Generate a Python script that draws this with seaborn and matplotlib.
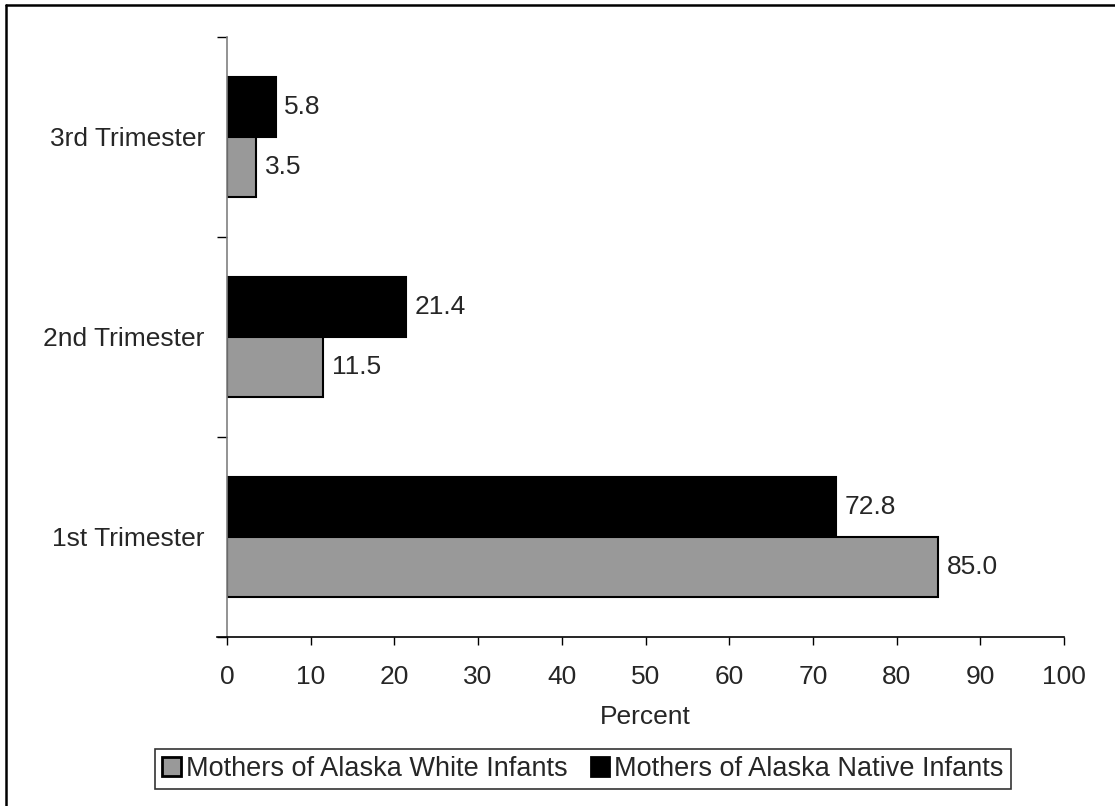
import pandas as pd
import matplotlib.pyplot as plt
import seaborn as sns
from matplotlib.patches import Patch
from matplotlib.lines import Line2D

# Data
trimesters = ['3rd Trimester', '2nd Trimester', '1st Trimester']
white_pct = [3.5, 11.5, 85.0]
native_pct = [5.8, 21.4, 72.8]
groups = ['Mothers of Alaska Native Infants', 'Mothers of Alaska White Infants']
colors = {'Mothers of Alaska Native Infants': 'black',
          'Mothers of Alaska White Infants': '#999999'}
x_ticks = list(range(0, 101, 10))

df = pd.DataFrame({
    'Trimester': trimesters * 2,
    'Group': [groups[0]] * 3 + [groups[1]] * 3,
    'Percent': native_pct + white_pct,
})

sns.set_style('white')
plt.rcParams['font.family'] = ['Liberation Sans', 'DejaVu Sans']

fig = plt.figure(figsize=(11.15, 8.06), dpi=100)
ax = fig.add_axes([227 / 1115, 1 - 637 / 806, (1064 - 227) / 1115, 600 / 806])

sns.barplot(data=df, x='Percent', y='Trimester', hue='Group', order=trimesters,
            hue_order=groups, palette=colors, orient='h', width=0.6,
            edgecolor='black', linewidth=1.5, saturation=1, ax=ax, legend=False)

for cont in ax.containers:
    ax.bar_label(cont, fmt='%.1f', padding=6, fontsize=19)

ax.set_xlim(0, 100)
ax.set_ylim(2.5, -0.5)
ax.set_xticks(x_ticks)
ax.set_yticks([0, 1, 2])
ax.set_yticks([-0.5, 0.5, 1.5, 2.5], minor=True)
ax.tick_params(axis='y', which='major', length=0, pad=16, labelsize=19)
ax.tick_params(axis='y', which='minor', length=7, width=1, color='black', left=True)
ax.tick_params(axis='x', length=6, width=1, color='black', pad=14, labelsize=19, bottom=True)
ax.set_xlabel('Percent', fontsize=19, labelpad=12)
ax.set_ylabel('')

for side in ['top', 'right']:
    ax.spines[side].set_visible(False)
ax.spines['left'].set_color('#808080')
ax.spines['left'].set_linewidth(1.2)
ax.spines['bottom'].set_color('black')
ax.spines['bottom'].set_linewidth(1.2)
ax.spines['bottom'].set_bounds(-1.2, 100)

handles = [Patch(facecolor='#999999', edgecolor='black', linewidth=2, label='Mothers of Alaska White Infants'),
           Patch(facecolor='black', edgecolor='black', linewidth=2, label='Mothers of Alaska Native Infants')]
leg = fig.legend(handles=handles, loc='center', bbox_to_anchor=(583 / 1115, 1 - 769 / 806),
                 ncol=2, fontsize=19.5, frameon=True, fancybox=False, edgecolor='black',
                 handlelength=0.68, handleheight=0.68, handletextpad=0.2, columnspacing=0.85,
                 borderpad=0.25, borderaxespad=0)
leg.get_frame().set_linewidth(1.2)

# partial outer border (top and left)
fig.add_artist(Line2D([6 / 1115, 1], [1 - 5 / 806, 1 - 5 / 806], color='black', linewidth=1.8))
fig.add_artist(Line2D([6 / 1115, 6 / 1115], [0, 1 - 5 / 806], color='black', linewidth=1.8))

fig.savefig('out.png', dpi=100)
